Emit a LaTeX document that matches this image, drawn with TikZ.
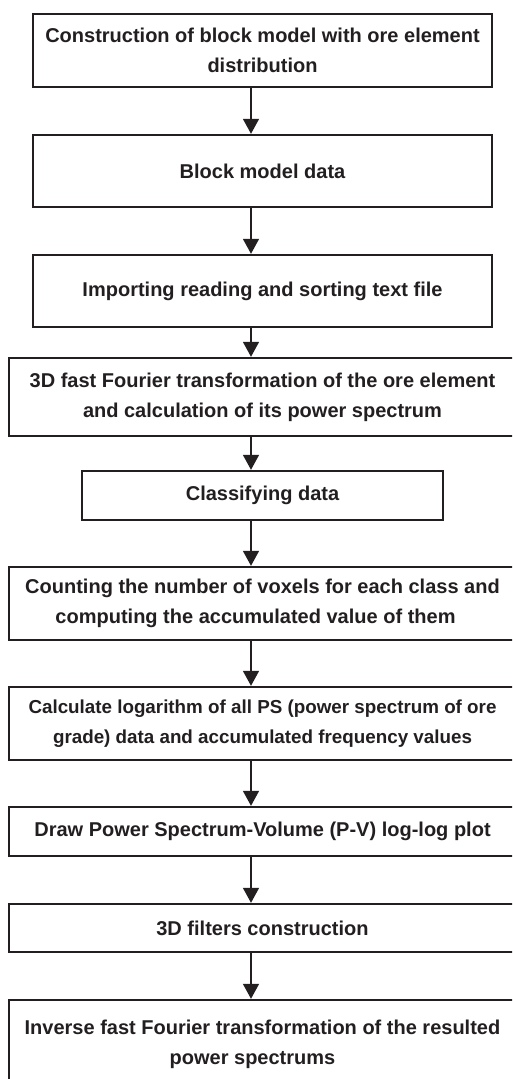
\documentclass[tikz,border=0pt]{standalone}
\usepackage{fontspec}
\setmainfont{Liberation Sans}
\usetikzlibrary{arrows.meta}
\definecolor{ink}{HTML}{231F20}
\begin{document}
\begin{tikzpicture}[x=1pt,y=-1pt,
  box/.style={draw=ink, line width=1.4pt, text=ink, align=center, inner sep=0pt,
    font=\fontsize{20}{30}\selectfont\bfseries},
  smalltext/.style={font=\fontsize{18.8}{30}\selectfont\bfseries},
  arr/.style={draw=ink, line width=1.6pt, -{Triangle[width=16pt,length=15pt]}, shorten >=0.5pt}]
\useasboundingbox (0,0) rectangle (512,1079);
\begin{scope}
\clip (0,0) rectangle (512,1079);
\node[box, minimum width=459pt, minimum height=73pt] (b1) at (262.5,50.5) {Construction of block model with ore element\\distribution};
\node[box, minimum width=459pt, minimum height=72pt] (b2) at (262.5,171) {Block model data};
\node[box, minimum width=459pt, minimum height=72pt] (b3) at (262.5,291) {Importing reading and sorting text file};
\node[box, minimum width=507pt, minimum height=78pt] (b4) at (262.5,397) {3D fast Fourier transformation of the ore element\\and calculation of its power spectrum};
\node[box, minimum width=361pt, minimum height=49pt] (b5) at (262.5,495.5) {Classifying data};
\node[box, minimum width=507pt, minimum height=73pt] (b6) at (262.5,603.5) {Counting the number of voxels for each class and\\computing the accumulated value of them\hspace*{14pt}};
\node[box, smalltext, minimum width=507pt, minimum height=73pt] (b7) at (262.5,723.5) {Calculate logarithm of all PS (power spectrum of ore\\grade) data and accumulated frequency values};
\node[box, minimum width=507pt, minimum height=49pt] (b8) at (262.5,831.5) {Draw Power Spectrum-Volume (P-V) log-log plot};
\node[box, minimum width=507pt, minimum height=48pt] (b9) at (262.5,928) {3D filters construction};
\node[box, minimum width=507pt, minimum height=88pt] (b10) at (262.5,1044) {Inverse fast Fourier transformation of the resulted\\power spectrums\hspace*{20pt}};
\end{scope}
\coordinate (ax) at (251,0);
\draw[arr] (b1.south -| ax) -- (b2.north -| ax);
\draw[arr] (b2.south -| ax) -- (b3.north -| ax);
\draw[arr] (b3.south -| ax) -- (b4.north -| ax);
\draw[arr] (b4.south -| ax) -- (b5.north -| ax);
\draw[arr] (b5.south -| ax) -- (b6.north -| ax);
\draw[arr] (b6.south -| ax) -- (b7.north -| ax);
\draw[arr] (b7.south -| ax) -- (b8.north -| ax);
\draw[arr] (b8.south -| ax) -- (b9.north -| ax);
\draw[arr] (b9.south -| ax) -- (b10.north -| ax);
\end{tikzpicture}
\end{document}
